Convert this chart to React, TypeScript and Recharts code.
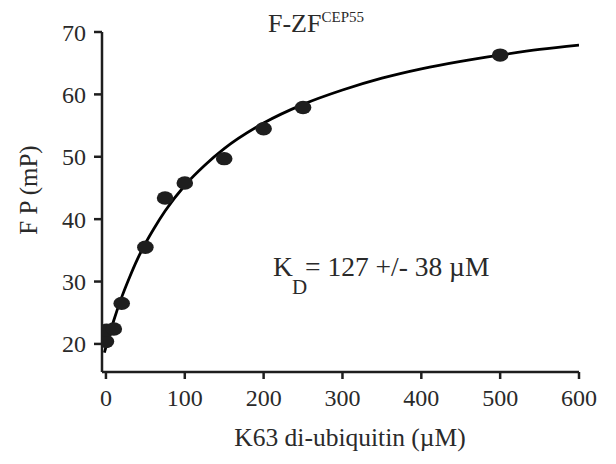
import React from 'react';
import { ComposedChart, Line, Scatter, XAxis, YAxis } from 'recharts';

// Measured data points (K63 di-ubiquitin concentration, µM) vs FP (mP)
const concentrations = [0, 1, 10, 20, 50, 75, 100, 150, 200, 250, 500];
const fpValues = [20.4, 22.2, 22.4, 26.5, 35.5, 43.4, 45.8, 49.7, 54.5, 57.9, 66.3];

// Fitted curve
const fitX = [-2, 0, 5, 10, 20, 30, 40, 50, 60, 75, 100, 125, 150, 200, 250, 300, 350, 400, 450, 500, 550, 600];
const fitY = [18.6, 19.5, 21.7, 23.8, 27.5, 30.7, 33.6, 36.1, 38.3, 41.3, 45.4, 48.6, 51.3, 55.4, 58.4, 60.7, 62.6, 64.1, 65.3, 66.3, 67.2, 67.9];

const xTicks = [0, 100, 200, 300, 400, 500, 600];
const yTicks = [20, 30, 40, 50, 60, 70];

const titleMain = 'F-ZF';
const titleSup = 'CEP55';
const xTitle = 'K63 di-ubiquitin  (\u00B5M)';
const yTitle = 'F P (mP)';
const kdMain = 'K';
const kdSub = 'D';
const kdText = '= 127 +/- 38 \u00B5M';

const points = concentrations.map((x, i) => ({ x, y: fpValues[i] }));
const fit = fitX.map((x, i) => ({ x, y: fitY[i] }));

const FONT = 'Liberation Serif';
const INK = '#1e1e1e';
const TEXT = '#2a2a2a';

const Dot = (props: any) => {
  const { cx, cy } = props;
  if (cx == null || cy == null) return null;
  return <ellipse cx={cx} cy={cy} rx={8.3} ry={6.7} fill={INK} />;
};

export default function App() {
  const tickStyle = { fontFamily: FONT, fontSize: 24, fill: TEXT };
  return (
    <div style={{ position: 'absolute', left: 0, top: 0, width: 616, height: 464, background: '#fff' }}>
      <ComposedChart
        width={616}
        height={464}
        data={fit}
        margin={{ top: 32, right: 37, bottom: 0, left: 0 }}
      >
        <XAxis
          type="number"
          dataKey="x"
          domain={[-5, 600]}
          ticks={xTicks}
          allowDataOverflow
          tickSize={7}
          tickMargin={10}
          axisLine={{ stroke: INK, strokeWidth: 2.5 }}
          tickLine={{ stroke: INK, strokeWidth: 2.5 }}
          tick={tickStyle}
          height={92}
        />
        <YAxis
          type="number"
          dataKey="y"
          domain={[15.5, 70]}
          ticks={yTicks}
          allowDataOverflow
          width={102}
          tickSize={8}
          tickMargin={8}
          axisLine={{ stroke: INK, strokeWidth: 2.5 }}
          tickLine={{ stroke: INK, strokeWidth: 2.5 }}
          tick={tickStyle}
        />
        <Line
          data={fit}
          dataKey="y"
          type="monotone"
          stroke="#000"
          strokeWidth={2.8}
          dot={false}
          activeDot={false}
          isAnimationActive={false}
        />
        <Scatter data={points} dataKey="y" shape={<Dot />} isAnimationActive={false} />
      </ComposedChart>
      <svg
        width={616}
        height={464}
        style={{ position: 'absolute', left: 0, top: 0, pointerEvents: 'none' }}
      >
        <text x={268} y={32} style={{ fontFamily: FONT }} fontSize={26} fill={TEXT}>
          {titleMain}
          <tspan fontSize={15} dy={-10}>{titleSup}</tspan>
        </text>
        <text x={350} y={446} textAnchor="middle" style={{ fontFamily: FONT }} fontSize={25.5} fill={TEXT}>
          {xTitle}
        </text>
        <text
          x={0}
          y={0}
          transform="translate(37,190) rotate(-90)"
          textAnchor="middle"
          style={{ fontFamily: FONT }}
          fontSize={25}
          fill={TEXT}
        >
          {yTitle}
        </text>
        <text x={273} y={276} style={{ fontFamily: FONT }} fontSize={27.5} fill={TEXT}>
          {kdMain}
          <tspan fontSize={21} dx={-1} dy={18}>{kdSub}</tspan>
          <tspan fontSize={27.5} dx={-2} dy={-18}>{kdText}</tspan>
        </text>
      </svg>
    </div>
  );
}
